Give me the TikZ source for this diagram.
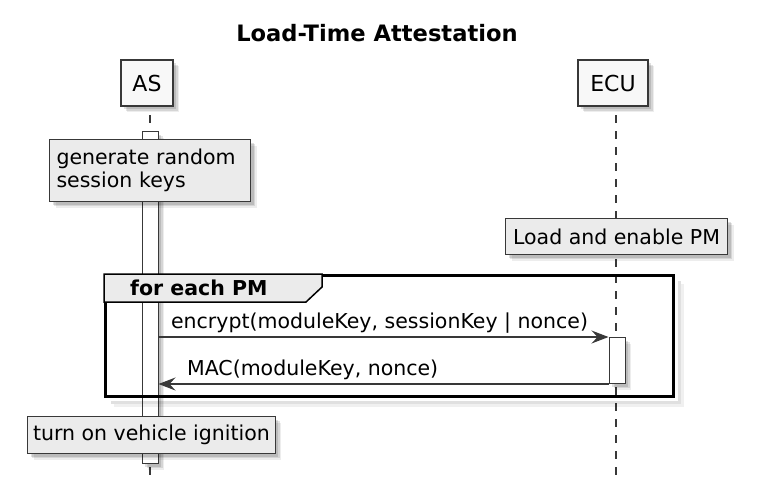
\documentclass[tikz,border=0pt]{standalone}
\usepackage{fontspec}
\setmainfont{DejaVu Sans}
\usetikzlibrary{shadows,arrows.meta}
\definecolor{linegray}{HTML}{383838}
\definecolor{notegray}{HTML}{EBEBEB}
\definecolor{partgray}{HTML}{F8F8F8}
\tikzset{
  softshadow/.style={
    drop shadow={shadow xshift=6pt, shadow yshift=-6pt, opacity=.07, fill=black},
    drop shadow={shadow xshift=4.5pt, shadow yshift=-4.5pt, opacity=.1, fill=black},
    drop shadow={shadow xshift=3pt, shadow yshift=-3pt, opacity=.12, fill=black}},
  participant/.style={draw=linegray, fill=partgray, line width=2pt, minimum width=52pt,
    minimum height=46pt, inner sep=0pt, font=\fontsize{22}{26}\selectfont, softshadow},
  note/.style={draw=linegray, fill=notegray, line width=1pt, inner xsep=7pt, inner ysep=0pt,
    align=left, font=\fontsize{20.5}{22.5}\selectfont, softshadow},
  actbar/.style={draw=linegray, fill=white, line width=1pt, minimum width=16pt, inner sep=0pt, softshadow},
  lifeline/.style={draw=linegray, line width=1.5pt, dash pattern=on 8pt off 8pt, dash phase=8pt},
  msg/.style={draw=linegray, line width=1.2pt, -{Stealth[length=17pt, width=13pt, inset=6pt]}},
  msglabel/.style={font=\fontsize{20.5}{22.5}\selectfont, inner sep=0pt, anchor=base west},
  frameshadow/.style={black, line width=3pt, opacity=.12}
}
\begin{document}
\begin{tikzpicture}[x=1pt, y=-1pt]
  \useasboundingbox (0,0) rectangle (765,499);
  \node[font=\bfseries\fontsize{22.6}{26}\selectfont, inner sep=0pt, anchor=base] (title) at (377,41) {Load-Time Attestation};
  % participants
  \node[participant] (as) at (147,83) {AS};
  \node[participant, minimum width=70pt] (ecu) at (613,83) {ECU};
  \coordinate (asend) at (150,477);
  \coordinate (ecuend) at (616,477);
  \draw[lifeline] (as.south -| asend) -- (asend);
  \draw[lifeline] (ecu.south -| ecuend) -- (ecuend);
  % activations
  \node[actbar, minimum height=332pt, anchor=north] (asbar) at (150,131) {};
  \node[actbar, minimum height=46pt, anchor=north] (ecubar) at (617,337) {};
  % notes
  \node[note, text width=187pt, minimum height=62pt, anchor=north west] (keys) at (49,139) {generate random\\session keys};
  \node[note, minimum width=222pt, minimum height=36pt, anchor=north west] (load) at (505,218) {Load and enable PM};
  \node[note, inner xsep=5.5pt, minimum width=246pt, minimum height=37pt, anchor=north west] (ignition) at (27,416) {turn on vehicle ignition};
  % loop
  \node[draw=black, line width=3pt, minimum width=568pt, minimum height=121pt, inner sep=0pt, anchor=north west] (loop) at (104,274) {};
  \draw[frameshadow] ([shift={(4,7)}]loop.north east) -- ([shift={(4,4)}]loop.south east) -- ([shift={(7,4)}]loop.south west);
  \draw[frameshadow, opacity=.06] ([shift={(7,10)}]loop.north east) -- ([shift={(7,7)}]loop.south east) -- ([shift={(10,7)}]loop.south west);
  \draw[fill=notegray, draw=black, line width=1.5pt] (loop.north west) -- ++(218,0) -- ++(0,13) -- ++(-16,15) -- (loop.north west |- 0,302) -- cycle;
  \node[font=\bfseries\fontsize{20.5}{22.5}\selectfont, inner sep=0pt, anchor=base west] (looplabel) at (130,295) {for each PM};
  % messages
  \draw[msg] (asbar.east |- ecubar.north) -- (ecubar.north west)
    node[msglabel, pos=0, shift={(12pt,9pt)}] (enc) {encrypt(moduleKey, sessionKey | nonce)};
  \draw[msg] (ecubar.south west) -- (asbar.east |- ecubar.south)
    node[msglabel, pos=1, shift={(28pt,9pt)}] (mac) {MAC(moduleKey, nonce)};
\end{tikzpicture}
\end{document}
